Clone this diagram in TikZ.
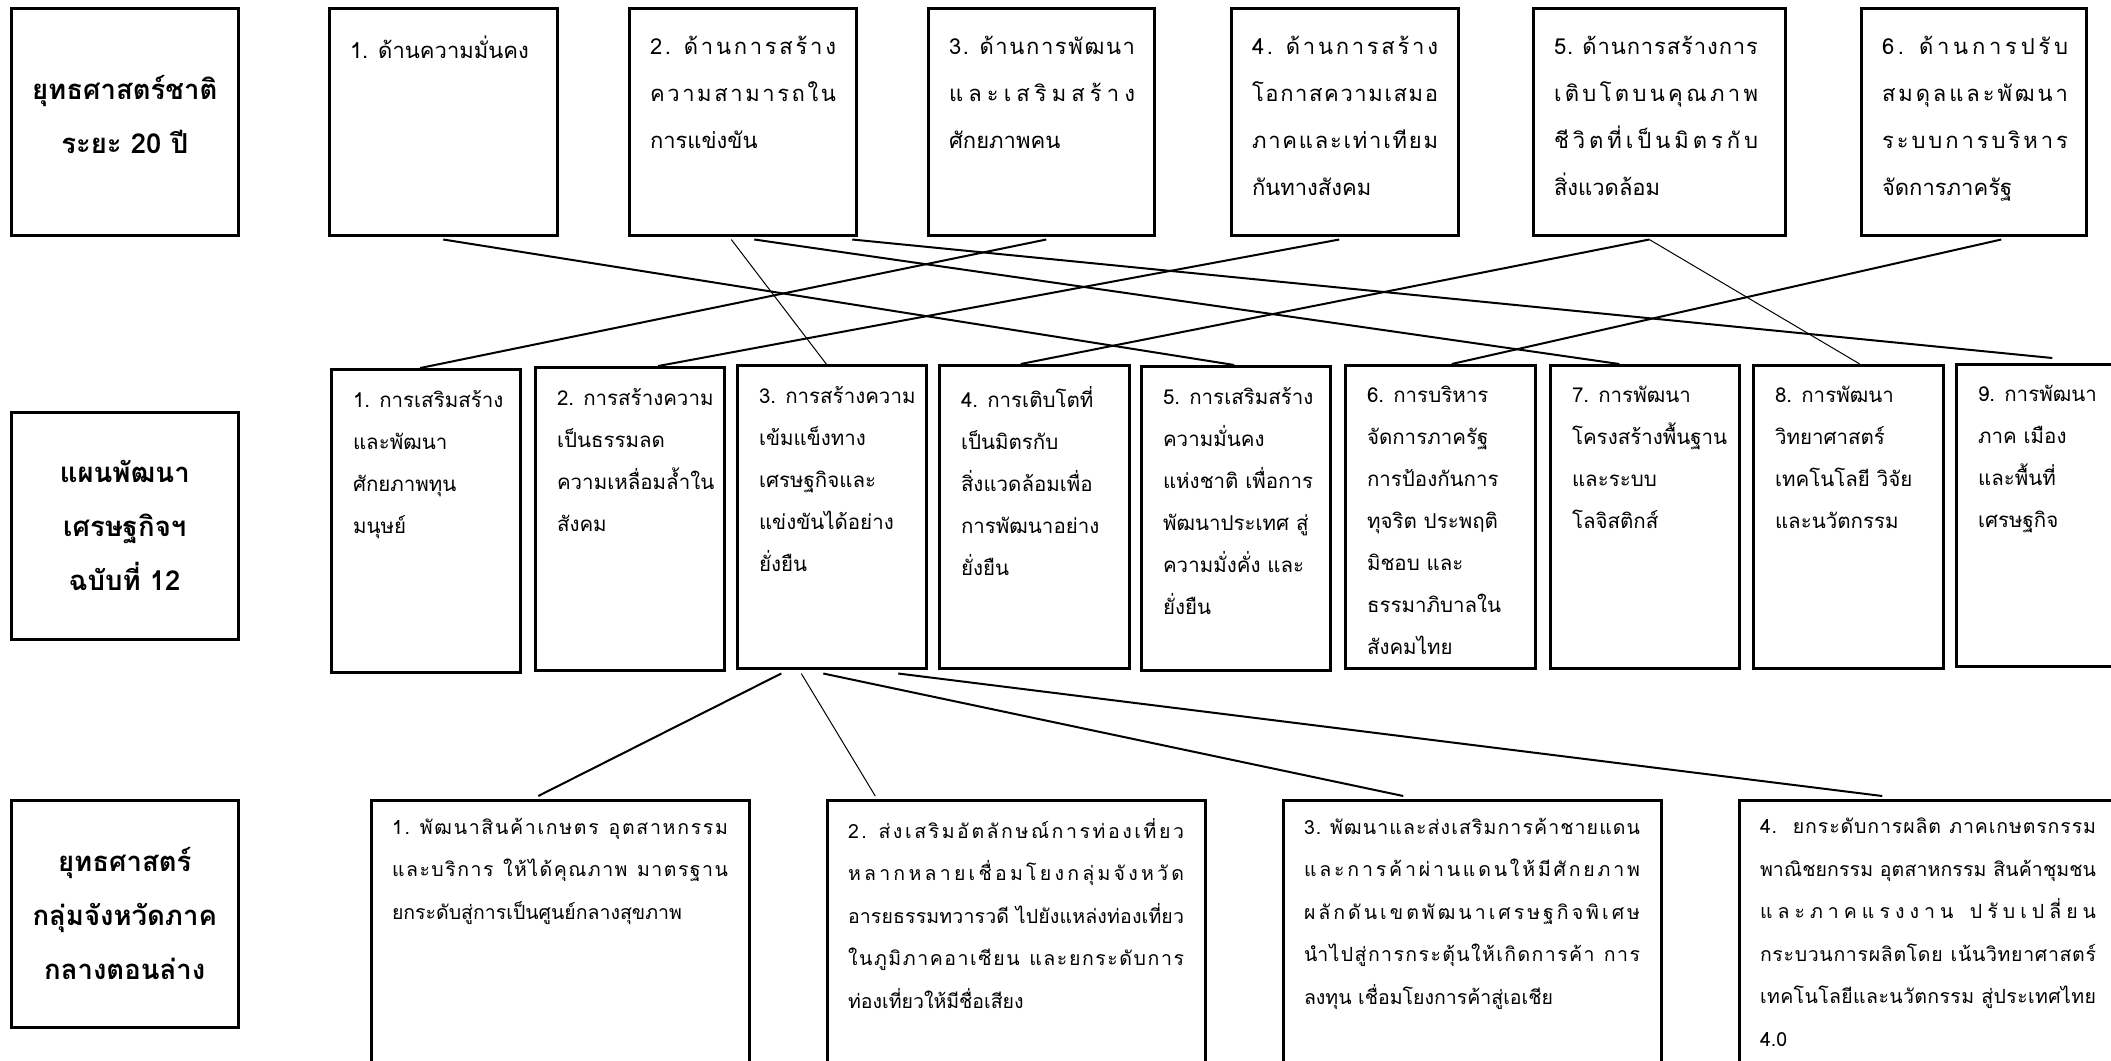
\documentclass[tikz,border=0pt]{standalone}
\usepackage{fontspec}
\newfontfamily\thaifont[Script=Thai]{Loma}
\usetikzlibrary{positioning}

% thai distributed line: glue between clusters, none before marks
\makeatletter
\def\sp@glue{\hskip0pt plus 1fil\relax}
\def\spread@start#1{#1\spread@}
\def\spread@#1{%
	\ifx#1\@nil\else
		\ifnum`#1="0E31 \else
			\ifnum`#1<"0E33 \sp@glue\else
				\ifnum`#1<"0E3B \else
					\ifnum`#1<"0E47 \sp@glue\else
						\ifnum`#1<"0E4F \else\sp@glue\fi
					\fi
				\fi
			\fi
		\fi
		#1\expandafter\spread@
	\fi}
\newcommand\sline[2]{\hbox to #1pt{\spread@start#2\@nil}}
\makeatother

\begin{document}
\begin{tikzpicture}[x=1pt,y=-1pt,line width=2pt,
		head/.style={draw,line width=2.5pt,minimum width=227,minimum height=227,anchor=north west,
			align=center,font=\thaifont\bfseries\fontsize{27.5}{54}\selectfont},
		box/.style={draw,line width=2.5pt,anchor=north west,inner sep=0},
		toptext/.style={anchor=north west,align=left,inner sep=0,xshift=21,yshift=-28,
			font=\thaifont\fontsize{22}{47}\selectfont},
		midtext/.style={anchor=north west,align=left,inner sep=0,xshift=22,yshift=-21,
			font=\thaifont\fontsize{20.5}{42}\selectfont},
		lowtext/.style={anchor=north west,align=left,inner sep=0,xshift=21,yshift=-18,
			font=\thaifont\fontsize{19.5}{42.5}\selectfont}]
		\tikzstyle{thin}=[line width=1pt]

		\useasboundingbox (0,0) rectangle (2111,1060);
		\fill[white] (0,0) rectangle (2111,1060);
		\clip (0,0) rectangle (2111,1060);

		% row titles
		\node at (10,7) [head,text depth=14] (strat) {ยุทธศาสตร์ชาติ\\ระยะ 20 ปี};
		\node at (10,411) [head] (plan) {แผนพัฒนา\\เศรษฐกิจฯ\\ฉบับที่ 12};
		\node at (10,799) [head] (prov) {ยุทธศาสตร์\\กลุ่มจังหวัดภาค\\กลางตอนล่าง};

		% national strategy
		\node at (328,7) [box,minimum width=228,minimum height=227] (b1) {};
		\node at (628,7) [box,minimum width=227,minimum height=227] (b2) {};
		\node at (927,7) [box,minimum width=226,minimum height=227] (b3) {};
		\node at (1230,7) [box,minimum width=227,minimum height=227] (b4) {};
		\node at (1532,7) [box,minimum width=252,minimum height=227] (b5) {};
		\node at (1860,7) [box,minimum width=225,minimum height=227] (b6) {};
		\node at (b1.north west) [toptext] {1. ด้านความมั่นคง};
		\node at (b2.north west) [toptext] {\sline{186}{2.~ด้านการสร้าง}\\\sline{186}{ความสามารถใน}\\การแข่งขัน};
		\node at (b3.north west) [toptext] {\sline{186}{3.~ด้านการพัฒนา}\\\sline{186}{และเสริมสร้าง}\\ศักยภาพคน};
		\node at (b4.north west) [toptext] {\sline{186}{4.~ด้านการสร้าง}\\\sline{186}{โอกาสความเสมอ}\\\sline{186}{ภาคและเท่าเทียม}\\กันทางสังคม};
		\node at (b5.north west) [toptext] {\sline{204}{5.~ด้านการสร้างการ}\\\sline{204}{เติบโตบนคุณภาพ}\\\sline{204}{ชีวิตที่เป็นมิตรกับ}\\สิ่งแวดล้อม};
		\node at (b6.north west) [toptext] {\sline{186}{6.~ด้านการปรับ}\\\sline{186}{สมดุลและพัฒนา}\\\sline{186}{ระบบการบริหาร}\\จัดการภาครัฐ};

		% 12th plan
		\node at (330,368) [box,minimum width=189,minimum height=303] (m1) {};
		\node at (534,366) [box,minimum width=189,minimum height=303] (m2) {};
		\node at (736,364) [box,minimum width=189,minimum height=303] (m3) {};
		\node at (938,364) [box,minimum width=190,minimum height=303] (m4) {};
		\node at (1140,365) [box,minimum width=189,minimum height=304] (m5) {};
		\node at (1344,364) [box,minimum width=190,minimum height=303] (m6) {};
		\node at (1549,364) [box,minimum width=189,minimum height=303] (m7) {};
		\node at (1752,364) [box,minimum width=190,minimum height=303] (m8) {};
		\node at (1955,363) [box,minimum width=189,minimum height=302] (m9) {};
		\node at (m1.north west) [midtext] {1. การเสริมสร้าง\\และพัฒนา\\ศักยภาพทุน\\มนุษย์};
		\node at (m2.north west) [midtext] {2. การสร้างความ\\เป็นธรรมลด\\ความเหลื่อมล้ำใน\\สังคม};
		\node at (m3.north west) [midtext] {3. การสร้างความ\\เข้มแข็งทาง\\เศรษฐกิจและ\\แข่งขันได้อย่าง\\ยั่งยืน};
		\node at (m4.north west) [midtext] {4. การเติบโตที่\\เป็นมิตรกับ\\สิ่งแวดล้อมเพื่อ\\การพัฒนาอย่าง\\ยั่งยืน};
		\node at (m5.north west) [midtext] {5. การเสริมสร้าง\\ความมั่นคง\\แห่งชาติ เพื่อการ\\พัฒนาประเทศ สู่\\ความมั่งคั่ง และ\\ยั่งยืน};
		\node at (m6.north west) [midtext] {6. การบริหาร\\จัดการภาครัฐ\\การป้องกันการ\\ทุจริต ประพฤติ\\มิชอบ และ\\ธรรมาภิบาลใน\\สังคมไทย};
		\node at (m7.north west) [midtext] {7. การพัฒนา\\โครงสร้างพื้นฐาน\\และระบบ\\โลจิสติกส์};
		\node at (m8.north west) [midtext] {8. การพัฒนา\\วิทยาศาสตร์\\เทคโนโลยี วิจัย\\และนวัตกรรม};
		\node at (m9.north west) [midtext] {9. การพัฒนา\\ภาค เมือง\\และพื้นที่\\เศรษฐกิจ};

		% provincial group strategy
		\node at (370,799) [box,minimum width=378,minimum height=320] (l1) {};
		\node at (826,799) [box,minimum width=378,minimum height=320] (l2) {};
		\node at (1282,799) [box,minimum width=378,minimum height=320] (l3) {};
		\node at (1738,799) [box,minimum width=378,minimum height=320] (l4) {};
		\node at (l1.north west) [lowtext] {\sline{336}{1.~พัฒนาสินค้าเกษตร~อุตสาหกรรม}\\\sline{336}{และบริการ~ให้ได้คุณภาพ~มาตรฐาน}\\ยกระดับสู่การเป็นศูนย์กลางสุขภาพ};
		\node at (l2.north west) [lowtext] {\sline{336}{2.~ส่งเสริมอัตลักษณ์การท่องเที่ยว}\\\sline{336}{หลากหลายเชื่อมโยงกลุ่มจังหวัด}\\\sline{336}{อารยธรรมทวารวดี~ไปยังแหล่งท่องเที่ยว}\\\sline{336}{ในภูมิภาคอาเซียน~และยกระดับการ}\\ท่องเที่ยวให้มีชื่อเสียง};
		\node at (l3.north west) [lowtext] {\sline{336}{3.~พัฒนาและส่งเสริมการค้าชายแดน}\\\sline{336}{และการค้าผ่านแดนให้มีศักยภาพ}\\\sline{336}{ผลักดันเขตพัฒนาเศรษฐกิจพิเศษ}\\\sline{336}{นำไปสู่การกระตุ้นให้เกิดการค้า~การ}\\ลงทุน เชื่อมโยงการค้าสู่เอเชีย};
		\node at (l4.north west) [lowtext] {\sline{336}{4.~~ยกระดับการผลิต~ภาคเกษตรกรรม}\\\sline{336}{พาณิชยกรรม~อุตสาหกรรม~สินค้าชุมชน}\\\sline{336}{และภาคแรงงาน~ปรับเปลี่ยน}\\\sline{336}{กระบวนการผลิตโดย~เน้นวิทยาศาสตร์}\\\sline{336}{เทคโนโลยีและนวัตกรรม~สู่ประเทศไทย}\\4.0};

		% strategy -> plan
		\draw ([yshift=-3]b1.south) -- ([xshift=-1.5]m5.north);
		\draw[thin] ([xshift=-11.5,yshift=-3]b2.south) -- ([xshift=-5.5]m3.north);
		\draw ([xshift=11.5,yshift=-3]b2.south) -- ([xshift=-25.5]m7.north);
		\draw ([xshift=109.5,yshift=-3]b2.south) -- ([xshift=1.5,yshift=5]m9.north);
		\draw ([xshift=5,yshift=-3]b3.south) -- ([xshift=-5.5]m1.north);
		\draw ([xshift=-5.5,yshift=-3]b4.south) -- ([xshift=28.5]m2.north);
		\draw ([xshift=-10,yshift=-3]b5.south) -- ([xshift=-13.5]m4.north);
		\draw[thin] ([xshift=-10,yshift=-3]b5.south) -- ([xshift=11.5]m8.north);
		\draw ([xshift=27.5,yshift=-3]b6.south) -- ([xshift=11.5]m6.north);

		% plan -> province
		\draw ([xshift=-50.5,yshift=-4]m3.south) -- ([xshift=-22,yshift=3]l1.north);
		\draw[thin] ([xshift=-30.5,yshift=-4]m3.south) -- ([xshift=-141,yshift=3]l2.north);
		\draw ([xshift=-8.5,yshift=-4]m3.south) -- ([xshift=-69,yshift=3]l3.north);
		\draw ([xshift=66.5,yshift=-4]m3.south) -- ([xshift=-46,yshift=3]l4.north);
	\end{tikzpicture}
\end{document}
